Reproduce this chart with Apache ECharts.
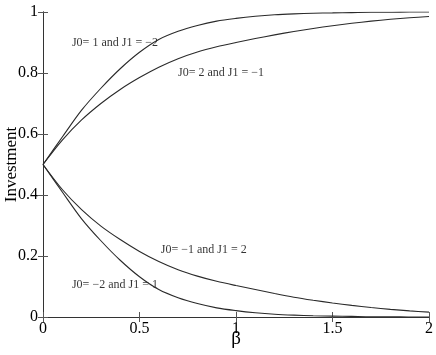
<!DOCTYPE html>
<html>
<head>
<meta charset="utf-8">
<script src="https://cdn.jsdelivr.net/npm/echarts@6/dist/echarts.min.js"></script>
<style>
  html, body { margin: 0; padding: 0; background: #fff; }
  #chart { width: 436px; height: 355px; }
</style>
</head>
<body>
<div id="chart"></div>
<script>
  // beta values (x axis)
  var betaValues = [0, 0.1, 0.2, 0.3, 0.4, 0.5, 0.6, 0.7, 0.8, 0.9, 1.0,
                    1.1, 1.2, 1.3, 1.4, 1.5, 1.6, 1.7, 1.8, 1.9, 2.0]
  // investment
  var invJ0p1 = [0.5, 0.59, 0.678, 0.75, 0.814, 0.868, 0.91, 0.937, 0.956, 0.97, 0.979,
                 0.986, 0.991, 0.994, 0.996, 0.997, 0.998, 0.999, 0.999, 1.0, 1.0]
  var invJ0p2 = [0.5, 0.58, 0.646, 0.70, 0.746, 0.785, 0.819, 0.847, 0.869, 0.886, 0.9,
                 0.913, 0.925, 0.936, 0.946, 0.955, 0.963, 0.970, 0.976, 0.981, 0.985]
  var invJ0m1 = [0.5, 0.418, 0.352, 0.298, 0.254, 0.215, 0.182, 0.155, 0.134, 0.117, 0.103,
                 0.09, 0.077, 0.065, 0.055, 0.046, 0.038, 0.031, 0.025, 0.02, 0.016]
  var invJ0m2 = [0.5, 0.41, 0.322, 0.25, 0.186, 0.132, 0.09, 0.063, 0.044, 0.03, 0.021,
                 0.014, 0.009, 0.006, 0.004, 0.003, 0.002, 0.001, 0.001, 0.0, 0.0]
  var curveNames = ['J0= 1 and J1 = \u22122', 'J0= 2 and J1 = \u22121',
                    'J0= \u22121 and J1 = 2', 'J0= \u22122 and J1 = 1']
  // where each curve's text sits, in data units
  var labelBeta = [0.15, 0.70, 0.61, 0.15]
  var labelInv = [0.90, 0.80, 0.219, 0.106]

  var serif = 'Liberation Serif'

  function pairs(ys) {
    return betaValues.map(function (b, i) { return [b, ys[i]] })
  }

  var lineSeries = [invJ0p1, invJ0p2, invJ0m1, invJ0m2].map(function (ys, i) {
    return {
      name: curveNames[i],
      type: 'line',
      data: pairs(ys),
      symbol: 'none',
      smooth: 0.3,
      lineStyle: { color: '#2a2a2a', width: 1.1 },
      silent: true
    }
  })

  var labelSeries = {
    type: 'scatter',
    symbolSize: 0,
    silent: true,
    data: curveNames.map(function (n, i) { return { value: [labelBeta[i], labelInv[i]], name: n } }),
    label: {
      show: true,
      position: 'right',
      distance: 0,
      formatter: '{b}',
      fontFamily: serif,
      fontSize: 12,
      color: '#000'
    }
  }

  function line() { return { lineStyle: { color: '#333', width: 1 } } }
  // ticks point into the plot box
  function ticks() { return { show: true, inside: false, length: -5, lineStyle: { color: '#555', width: 1 } } }

  var option = {
    backgroundColor: '#fff',
    animation: false,
    grid: { left: 43, right: 7, top: 12, bottom: 38, containLabel: false, outerBoundsMode: 'none' },
    xAxis: [{
      type: 'value', min: 0, max: 2, interval: 0.5,
      name: '\u03b2', nameLocation: 'middle', nameGap: 13, nameMoveOverlap: false,
      nameTextStyle: { fontFamily: serif, fontSize: 19, color: '#000' },
      axisLine: line(), axisTick: ticks(),
      axisLabel: { fontFamily: serif, fontSize: 16, color: '#000', margin: 4 },
      splitLine: { show: false }
    }, {
      type: 'value', min: 0, max: 2, interval: 0.5, position: 'top',
      axisLine: line(), axisTick: ticks(),
      axisLabel: { show: false }, splitLine: { show: false }
    }],
    yAxis: [{
      type: 'value', min: 0, max: 1, interval: 0.2,
      name: 'Investment', nameLocation: 'middle', nameGap: 23, nameMoveOverlap: false,
      nameTextStyle: { fontFamily: serif, fontSize: 17, color: '#000' },
      axisLine: line(), axisTick: ticks(),
      axisLabel: { fontFamily: serif, fontSize: 16, color: '#000', margin: 5 },
      splitLine: { show: false }
    }, {
      type: 'value', min: 0, max: 1, interval: 0.2, position: 'right',
      axisLine: line(), axisTick: ticks(),
      axisLabel: { show: false }, splitLine: { show: false }
    }],
    series: lineSeries.concat([labelSeries])
  }

  var myChart = echarts.init(document.getElementById('chart'))
  myChart.setOption(option)
</script>
</body>
</html>
